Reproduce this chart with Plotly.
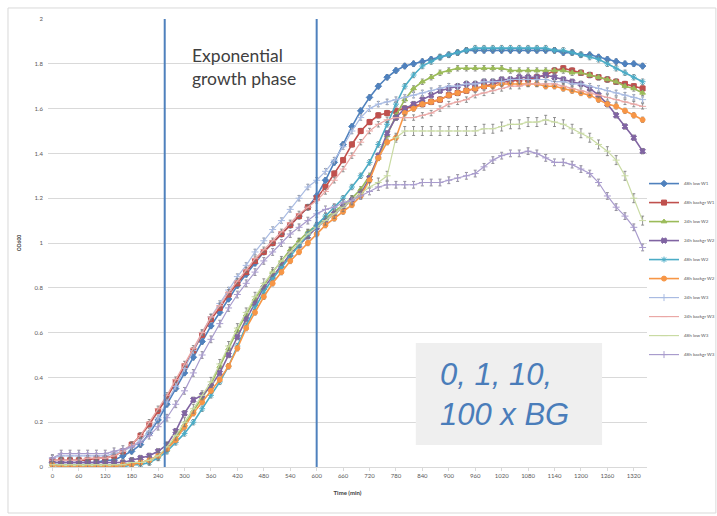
import plotly.graph_objects as go

# Time points (min), every 20 min
TIME = [t for t in range(0, 1341, 20)]
X_TICKS = list(range(0, 1321, 60))
Y_TICKS = [0, 0.2, 0.4, 0.6, 0.8, 1, 1.2, 1.4, 1.6, 1.8, 2]
Y_TICK_TEXT = ["0", "0.2", "0.4", "0.6", "0.8", "1", "1.2", "1.4", "1.6", "1.8", "2"]
PHASE_START = 255
PHASE_END = 600

NAMES = ["48h low W1", "48h backgr W1", "24h low W2", "24h backgr W2", "48h low W2",
         "48h backgr W2", "24h low W3", "24h backgr W3", "48h low W3", "48h backgr W3"]

low48_W1 = [0.02, 0.02, 0.02, 0.02, 0.02, 0.02, 0.03, 0.03, 0.05, 0.07, 0.10, 0.15, 0.21, 0.28, 0.35, 0.42,
            0.49, 0.56, 0.63, 0.69, 0.75, 0.81, 0.86, 0.91, 0.96, 1.00, 1.04, 1.08, 1.12, 1.16, 1.21, 1.28,
            1.36, 1.44, 1.52, 1.59, 1.65, 1.70, 1.74, 1.77, 1.79, 1.80, 1.81, 1.82, 1.83, 1.84, 1.85, 1.86,
            1.86, 1.86, 1.86, 1.86, 1.86, 1.86, 1.86, 1.86, 1.86, 1.86, 1.85, 1.85, 1.84, 1.84, 1.83, 1.82,
            1.81, 1.80, 1.80, 1.79]
backgr48_W1 = [0.03, 0.03, 0.03, 0.03, 0.03, 0.04, 0.04, 0.05, 0.07, 0.10, 0.14, 0.19, 0.25, 0.31, 0.38, 0.45,
               0.52, 0.59, 0.66, 0.71, 0.77, 0.82, 0.87, 0.92, 0.96, 1.00, 1.04, 1.08, 1.12, 1.16, 1.20, 1.25,
               1.31, 1.37, 1.44, 1.50, 1.54, 1.57, 1.58, 1.59, 1.60, 1.61, 1.62, 1.63, 1.64, 1.66, 1.67, 1.68,
               1.69, 1.70, 1.71, 1.72, 1.72, 1.73, 1.73, 1.74, 1.75, 1.77, 1.78, 1.77, 1.76, 1.75, 1.74, 1.73,
               1.72, 1.71, 1.70, 1.69]
low24_W2 = [0.01, 0.01, 0.01, 0.01, 0.01, 0.01, 0.01, 0.01, 0.01, 0.02, 0.02, 0.03, 0.05, 0.08, 0.13, 0.19,
            0.25, 0.31, 0.37, 0.45, 0.53, 0.61, 0.68, 0.75, 0.81, 0.87, 0.92, 0.97, 1.01, 1.05, 1.08, 1.11,
            1.14, 1.17, 1.20, 1.24, 1.30, 1.38, 1.48, 1.57, 1.64, 1.69, 1.72, 1.74, 1.76, 1.77, 1.78, 1.78,
            1.78, 1.78, 1.78, 1.78, 1.77, 1.77, 1.77, 1.77, 1.77, 1.77, 1.77, 1.76, 1.76, 1.75, 1.74, 1.73,
            1.72, 1.70, 1.69, 1.67]
backgr24_W2 = [0.02, 0.02, 0.02, 0.02, 0.02, 0.02, 0.02, 0.02, 0.02, 0.03, 0.04, 0.05, 0.07, 0.10, 0.16, 0.24,
               0.30, 0.32, 0.36, 0.42, 0.50, 0.58, 0.66, 0.73, 0.80, 0.85, 0.90, 0.95, 0.99, 1.03, 1.07, 1.10,
               1.13, 1.16, 1.19, 1.22, 1.29, 1.39, 1.49, 1.56, 1.60, 1.62, 1.64, 1.66, 1.68, 1.69, 1.70, 1.71,
               1.71, 1.72, 1.72, 1.73, 1.73, 1.74, 1.74, 1.74, 1.75, 1.74, 1.73, 1.72, 1.71, 1.69, 1.66, 1.62,
               1.57, 1.52, 1.47, 1.41]
low48_W2 = [0.01, 0.00, 0.00, 0.00, 0.00, 0.00, 0.00, 0.00, 0.00, 0.01, 0.01, 0.02, 0.04, 0.07, 0.11, 0.15,
            0.20, 0.26, 0.32, 0.38, 0.45, 0.54, 0.63, 0.71, 0.78, 0.84, 0.89, 0.94, 0.99, 1.04, 1.08, 1.12,
            1.16, 1.20, 1.25, 1.30, 1.36, 1.44, 1.53, 1.62, 1.70, 1.75, 1.79, 1.81, 1.83, 1.84, 1.85, 1.86,
            1.87, 1.87, 1.87, 1.87, 1.87, 1.87, 1.87, 1.87, 1.87, 1.86, 1.86, 1.85, 1.84, 1.83, 1.82, 1.80,
            1.78, 1.76, 1.74, 1.72]
backgr48_W2 = [0.01, 0.00, 0.00, 0.00, 0.00, 0.00, 0.00, 0.00, 0.01, 0.01, 0.02, 0.03, 0.05, 0.08, 0.12, 0.18,
               0.24, 0.29, 0.34, 0.39, 0.45, 0.53, 0.62, 0.69, 0.76, 0.82, 0.87, 0.92, 0.96, 1.00, 1.04, 1.08,
               1.11, 1.14, 1.17, 1.21, 1.28, 1.38, 1.45, 1.47, 1.58, 1.60, 1.62, 1.63, 1.64, 1.66, 1.67, 1.68,
               1.69, 1.70, 1.70, 1.71, 1.71, 1.71, 1.71, 1.71, 1.70, 1.70, 1.69, 1.68, 1.67, 1.66, 1.64, 1.62,
               1.61, 1.59, 1.57, 1.55]
low24_W3 = [0.04, 0.05, 0.05, 0.05, 0.05, 0.05, 0.05, 0.06, 0.07, 0.09, 0.12, 0.16, 0.22, 0.29, 0.36, 0.44,
            0.52, 0.60, 0.67, 0.73, 0.79, 0.85, 0.90, 0.96, 1.01, 1.06, 1.10, 1.15, 1.20, 1.25, 1.28, 1.32,
            1.37, 1.43, 1.50, 1.56, 1.60, 1.62, 1.63, 1.64, 1.65, 1.66, 1.67, 1.68, 1.69, 1.70, 1.70, 1.71,
            1.71, 1.72, 1.72, 1.72, 1.73, 1.73, 1.73, 1.73, 1.73, 1.72, 1.72, 1.71, 1.71, 1.70, 1.69, 1.68,
            1.67, 1.66, 1.65, 1.64]
backgr24_W3 = [0.03, 0.03, 0.03, 0.03, 0.04, 0.04, 0.04, 0.05, 0.07, 0.10, 0.14, 0.20, 0.26, 0.32, 0.39, 0.46,
               0.53, 0.60, 0.67, 0.72, 0.78, 0.83, 0.88, 0.93, 0.97, 1.01, 1.05, 1.09, 1.13, 1.16, 1.19, 1.23,
               1.28, 1.33, 1.39, 1.45, 1.50, 1.53, 1.55, 1.56, 1.56, 1.56, 1.57, 1.58, 1.60, 1.62, 1.63, 1.64,
               1.66, 1.67, 1.68, 1.69, 1.70, 1.70, 1.71, 1.71, 1.71, 1.71, 1.70, 1.69, 1.68, 1.67, 1.66, 1.65,
               1.64, 1.63, 1.62, 1.61]
low48_W3 = [0.01, 0.01, 0.01, 0.01, 0.01, 0.01, 0.01, 0.01, 0.01, 0.02, 0.02, 0.03, 0.05, 0.09, 0.14, 0.20,
            0.26, 0.32, 0.38, 0.46, 0.54, 0.62, 0.69, 0.76, 0.82, 0.87, 0.92, 0.96, 1.00, 1.04, 1.07, 1.10,
            1.13, 1.16, 1.19, 1.22, 1.25, 1.27, 1.30, 1.47, 1.50, 1.50, 1.50, 1.50, 1.50, 1.50, 1.50, 1.50,
            1.50, 1.51, 1.51, 1.52, 1.53, 1.53, 1.54, 1.54, 1.55, 1.54, 1.53, 1.51, 1.49, 1.47, 1.44, 1.41,
            1.37, 1.30, 1.20, 1.10]
backgr48_W3 = [0.04, 0.06, 0.06, 0.06, 0.06, 0.06, 0.06, 0.07, 0.08, 0.09, 0.11, 0.14, 0.18, 0.22, 0.28, 0.34,
               0.42, 0.50, 0.57, 0.64, 0.71, 0.77, 0.82, 0.87, 0.92, 0.96, 1.00, 1.04, 1.07, 1.10, 1.13, 1.15,
               1.16, 1.18, 1.19, 1.21, 1.23, 1.25, 1.26, 1.26, 1.26, 1.26, 1.27, 1.27, 1.27, 1.28, 1.29, 1.30,
               1.31, 1.34, 1.37, 1.39, 1.40, 1.40, 1.41, 1.40, 1.38, 1.36, 1.36, 1.35, 1.33, 1.31, 1.27, 1.21,
               1.16, 1.12, 1.07, 0.98]

SERIES = [low48_W1, backgr48_W1, low24_W2, backgr24_W2, low48_W2,
          backgr48_W2, low24_W3, backgr24_W3, low48_W3, backgr48_W3]
ERR = [0.012, 0.012, 0.012, 0.012, 0.012, 0.012, 0.012, 0.012, 0.02, 0.015]

COLORS = ["#4F81BD", "#C0504D", "#9BBB59", "#8064A2", "#4BACC6",
          "#F79646", "#A9BBE2", "#EAA8A6", "#C9DBA3", "#A99CCD"]
SYMBOLS = ["diamond", "square", "triangle-up", "x", "asterisk-open",
           "circle", "cross-thin-open", "line-ew-open", "line-ew-open", "cross-thin-open"]
WIDTHS = [1.6, 1.6, 1.6, 1.6, 1.6, 1.6, 1.2, 1.2, 1.2, 1.2]

fig = go.Figure()
for name, ys, col, sym, w, e in zip(NAMES, SERIES, COLORS, SYMBOLS, WIDTHS, ERR):
    fig.add_trace(go.Scatter(
        x=TIME, y=ys, name=name, mode="lines+markers",
        line=dict(color=col, width=w),
        marker=dict(symbol=sym, size=5, color=col, line=dict(color=col, width=1)),
        error_y=dict(type="constant", value=e, color="#777777", thickness=0.8, width=1.5),
    ))

# phase lines
for xv in (PHASE_START, PHASE_END):
    fig.add_shape(type="line", xref="x", yref="y", x0=xv, x1=xv, y0=0, y1=2.05,
                  line=dict(color="#4F81BD", width=2), layer="above")

# outer frame
fig.add_shape(type="rect", xref="paper", yref="paper", x0=-0.0668, x1=1.115, y0=-0.1027, y1=1.0246,
              line=dict(color="#D9D9D9", width=1), layer="below")

# BG box
fig.add_shape(type="rect", xref="paper", yref="paper", x0=0.614, x1=0.925, y0=0.049, y1=0.277,
              fillcolor="#EFEFEF", line=dict(width=0), layer="above")

fig.add_annotation(xref="paper", yref="paper", x=0.237, y=0.947, xanchor="left", yanchor="top",
                   text="Exponential<br>growth phase", showarrow=False, align="left",
                   font=dict(family="Lato", size=17.5, color="#404040"))
fig.add_annotation(xref="paper", yref="paper", x=0.651, y=0.161, xanchor="left", yanchor="middle",
                   text="<i>0, 1, 10,<br>100 x BG</i>", showarrow=False, align="left",
                   font=dict(family="Liberation Sans", size=31, color="#4A7DBA"))

fig.update_layout(
    width=717, height=516,
    margin=dict(l=48, r=70, t=19, b=49, autoexpand=False),
    paper_bgcolor="white", plot_bgcolor="white",
    showlegend=True,
    legend=dict(x=0.995, y=0.665, xanchor="left", yanchor="top",
                font=dict(family="Lato", size=4.5, color="#595959"),
                itemwidth=30, tracegroupgap=0, bgcolor="rgba(0,0,0,0)"),
    xaxis=dict(range=[-10, 1350], tickmode="array", tickvals=X_TICKS, ticktext=[str(v) for v in X_TICKS],
               showgrid=False, zeroline=False, showline=True, linecolor="#D9D9D9", linewidth=1,
               ticks="outside", ticklen=3, tickcolor="#D9D9D9",
               tickfont=dict(family="Lato", size=6, color="#595959"),
               title=dict(text="<b>Time (min)</b>", font=dict(family="Lato", size=6, color="#404040"), standoff=12)),
    yaxis=dict(range=[0, 2], tickmode="array", tickvals=Y_TICKS, ticktext=Y_TICK_TEXT,
               showgrid=True, gridcolor="#D9D9D9", gridwidth=1, zeroline=False,
               showline=False, ticks="", ticklabelstandoff=4,
               tickfont=dict(family="Lato", size=6, color="#595959"),
               title=dict(text="<b>OD600</b>", font=dict(family="Lato", size=5, color="#404040"), standoff=12)),
)

fig.write_html("out.html")
